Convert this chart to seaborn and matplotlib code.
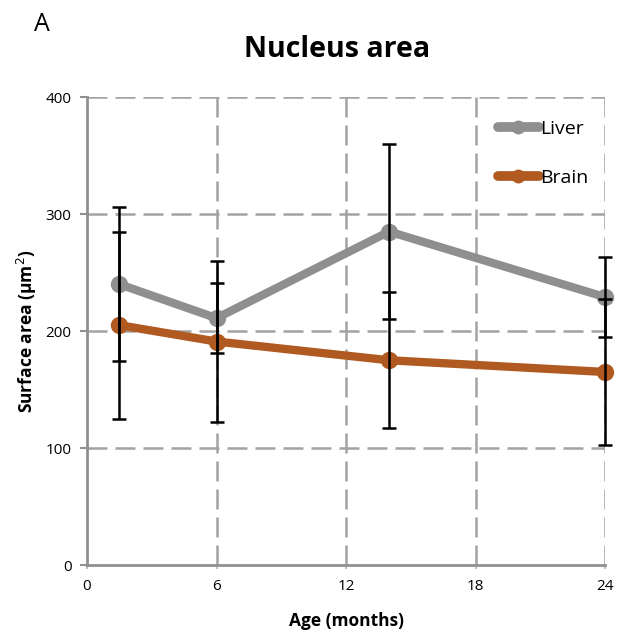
import matplotlib
matplotlib.use("Agg")
import matplotlib.pyplot as plt
import seaborn as sns
import pandas as pd
import numpy as np

ages = [1.5, 6, 14, 24]
liver = [240, 211, 285, 229]
liver_err = [66, 30, 75, 34]
brain = [205, 191, 175, 165]
brain_err = [80, 69, 58, 62]
x_ticks = [0, 6, 12, 18, 24]
y_ticks = [0, 100, 200, 300, 400]

sns.set_theme(style="white")
plt.rcParams['font.family'] = ['Open Sans', 'DejaVu Sans']
plt.rcParams['text.color'] = 'black'
plt.rcParams['axes.labelcolor'] = 'black'
plt.rcParams['xtick.labelcolor'] = 'black'
plt.rcParams['ytick.labelcolor'] = 'black'

df = pd.DataFrame({
    "Age": ages * 2,
    "Area": liver + brain,
    "Tissue": ["Liver"] * 4 + ["Brain"] * 4,
})
palette = {"Liver": "#8f8f8f", "Brain": "#b05a22"}

fig = plt.figure(figsize=(6.18, 6.37), dpi=100)
ax = fig.add_axes([0.1408, 0.113, 0.979 - 0.1408, 0.8477 - 0.113])

sns.lineplot(data=df, x="Age", y="Area", hue="Tissue", palette=palette,
             marker="o", markersize=12.5, linewidth=6, markeredgewidth=0,
             ax=ax, zorder=3, legend=True, clip_on=False)

for vals, errs in [(liver, liver_err), (brain, brain_err)]:
    eb = ax.errorbar(ages, vals, yerr=errs, fmt="none", ecolor="black",
                     elinewidth=1.8, capsize=5, capthick=1.8, zorder=4)
    for art in eb.lines[1] + eb.lines[2]:
        art.set_clip_on(False)

ax.set_xlim(0, 24)
ax.set_ylim(0, 400)
ax.set_xticks(x_ticks)
ax.set_yticks(y_ticks)
ax.set_xticklabels([str(v) for v in x_ticks], fontsize=11)
ax.set_yticklabels([str(v) for v in y_ticks], fontsize=11)

grid_kw = dict(color="#a3a3a3", linestyle=(0, (8, 3.2)), linewidth=1.8, zorder=1)
for v in x_ticks[1:]:
    ax.axvline(v, **grid_kw)
for v in y_ticks[1:]:
    ax.axhline(v, **grid_kw)

for s in ["top", "right"]:
    ax.spines[s].set_visible(False)
for s in ["left", "bottom"]:
    ax.spines[s].set_color("#8f8f8f")
    ax.spines[s].set_linewidth(2)
    ax.spines[s].set_zorder(2)

ax.tick_params(axis="y", which="major", direction="out", length=5, width=1.5,
               color="#8f8f8f", left=True, pad=6)
ax.tick_params(axis="x", which="major", direction="out", length=3, width=1.5,
               color="#c0c0c0", bottom=True, pad=7)

ax.set_xlabel("Age (months)", fontsize=12.5, fontweight="bold", labelpad=13)
ax.set_ylabel("Surface area (µm$^2$)", fontsize=12.5, fontweight="bold", labelpad=5)

fig.text(0.545, 0.922, "Nucleus area", fontsize=20.5, fontweight="bold",
         ha="center", va="center")
fig.text(0.055, 0.962, "A", fontsize=18, ha="left", va="center")

handles, labels = ax.get_legend_handles_labels()
leg = ax.legend(handles, labels, loc="upper right", bbox_to_anchor=(0.995, 0.98),
                frameon=False, fontsize=14, handlelength=2.1, handletextpad=0.1,
                labelspacing=1.6, borderaxespad=0.3)
for h in leg.legend_handles:
    h.set_markersize(10)
    h.set_linewidth(7)

fig.savefig("out.png", dpi=100)
